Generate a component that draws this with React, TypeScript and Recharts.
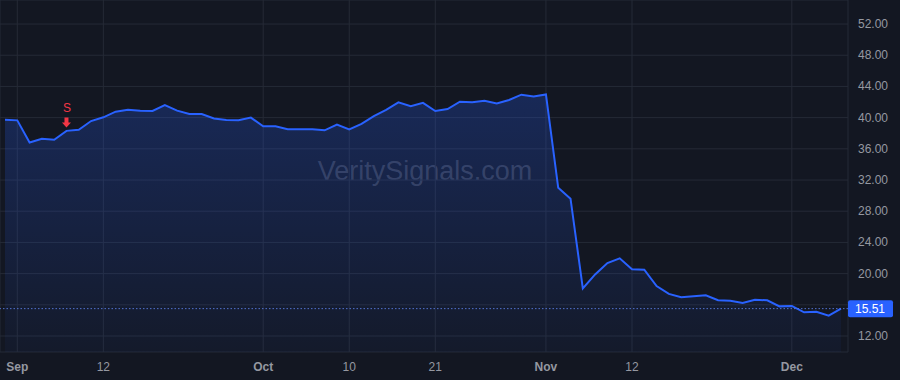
import {
  AreaChart,
  Area,
  XAxis,
  YAxis,
  CartesianGrid,
  ReferenceLine,
  ReferenceDot,
} from "recharts";

const dates = [
  "2024-08-30",
  "2024-09-03", "2024-09-04", "2024-09-05", "2024-09-06", "2024-09-09",
  "2024-09-10", "2024-09-11", "2024-09-12", "2024-09-13", "2024-09-16",
  "2024-09-17", "2024-09-18", "2024-09-19", "2024-09-20", "2024-09-23",
  "2024-09-24", "2024-09-25", "2024-09-26", "2024-09-27", "2024-09-30",
  "2024-10-01", "2024-10-02", "2024-10-03", "2024-10-04", "2024-10-07",
  "2024-10-08", "2024-10-09", "2024-10-10", "2024-10-11", "2024-10-14",
  "2024-10-15", "2024-10-16", "2024-10-17", "2024-10-18", "2024-10-21",
  "2024-10-22", "2024-10-23", "2024-10-24", "2024-10-25", "2024-10-28",
  "2024-10-29", "2024-10-30", "2024-10-31",
  "2024-11-01", "2024-11-04", "2024-11-05", "2024-11-06", "2024-11-07",
  "2024-11-08", "2024-11-11", "2024-11-12", "2024-11-13", "2024-11-14",
  "2024-11-15", "2024-11-18", "2024-11-19", "2024-11-20", "2024-11-21",
  "2024-11-22", "2024-11-25", "2024-11-26", "2024-11-27", "2024-11-29",
  "2024-12-02", "2024-12-03", "2024-12-04", "2024-12-05", "2024-12-06",
];

const closes = [
  39.73, 39.65, 36.8, 37.3, 37.17, 38.3, 38.45, 39.56, 40.04, 40.76,
  41.0, 40.88, 40.85, 41.6, 40.9, 40.46, 40.46, 39.9, 39.7, 39.65,
  40.0, 38.9, 38.9, 38.5, 38.5, 38.5, 38.37, 39.1, 38.5, 39.2,
  40.2, 41.0, 41.96, 41.45, 41.9, 40.85, 41.1, 42.04, 41.96, 42.17,
  41.8, 42.26, 42.94, 42.7, 42.97, 31.0, 29.6, 18.1, 19.9, 21.36,
  21.96, 20.55, 20.5, 18.41, 17.4, 16.96, 17.1, 17.22, 16.58, 16.53,
  16.23, 16.65, 16.58, 15.8, 15.85, 15.04, 15.12, 14.6, 15.51,
];

const tickDates = [
  "2024-09-03", "2024-09-12", "2024-10-01", "2024-10-10",
  "2024-10-21", "2024-11-01", "2024-11-12", "2024-12-02",
];
const tickLabels = ["Sep", "12", "Oct", "10", "21", "Nov", "12", "Dec"];
const monthLabels = ["Sep", "Oct", "Nov", "Dec"];

const priceTicks = [12, 16, 20, 24, 28, 32, 36, 40, 44, 48, 52];

const sellDate = "2024-09-09";
const lastPrice = 15.51;

const FONT = "'Liberation Sans', Arial, sans-serif";
const TEXT = "#9598a1";
const GRID = "#252a36";
const BLUE = "#2962ff";
const RED = "#f23645";

const data = dates.map((d, i) => ({ d, close: closes[i] }));

function DateTick({ x, y, payload }: any) {
  const label = tickLabels[tickDates.indexOf(payload.value)] ?? "";
  const bold = monthLabels.includes(label);
  return (
    <text
      x={x}
      y={y}
      dy="0.71em"
      textAnchor="middle"
      fill={TEXT}
      fontSize={12}
      fontWeight={bold ? 700 : 400}
      fontFamily={FONT}
    >
      {label}
    </text>
  );
}

function PriceTick({ x, y, payload }: any) {
  // 16.00 is hidden behind the last-price tag
  if (payload.value === 16) return null;
  return (
    <text x={x} y={y} dy={4} fill={TEXT} fontSize={12} fontFamily={FONT}>
      {payload.value.toFixed(2)}
    </text>
  );
}

function LastPriceTag({ viewBox }: any) {
  const left = viewBox.x + viewBox.width;
  return (
    <g>
      <rect x={left} y={viewBox.y - 8.5} width={45} height={17} rx={2} fill={BLUE} />
      <text
        x={left + 22}
        y={viewBox.y}
        dy={4}
        textAnchor="middle"
        fill="#ffffff"
        fontSize={12}
        fontFamily={FONT}
      >
        {lastPrice.toFixed(2)}
      </text>
    </g>
  );
}

function SellMarker({ cx, cy }: any) {
  const tip = cy - 3.5;
  return (
    <g>
      <text
        x={cx + 0.5}
        y={cy - 19}
        textAnchor="middle"
        fill={RED}
        fontSize={12}
        fontFamily={FONT}
      >
        S
      </text>
      <path
        d={`M${cx - 2},${tip - 10} L${cx + 2},${tip - 10} L${cx + 2},${tip - 5} L${cx + 4.5},${tip - 5} L${cx},${tip} L${cx - 4.5},${tip - 5} L${cx - 2},${tip - 5} Z`}
        fill={RED}
      />
    </g>
  );
}

export default function App() {
  return (
    <div style={{ position: "relative", width: 900, height: 380, background: "#131722" }}>
      <style>{`body{margin:0;background:#131722;}`}</style>
      <div
        style={{
          position: "absolute",
          left: 0,
          width: 850,
          top: 156,
          textAlign: "center",
          fontFamily: FONT,
          fontSize: 27,
          color: "rgba(125,130,145,0.36)",
        }}
      >
        VeritySignals.com
      </div>
      <AreaChart
        width={900}
        height={380}
        data={data}
        margin={{ top: 0, right: 0, bottom: 0, left: 0 }}
        style={{ position: "absolute", left: 0, top: 0 }}
      >
        <defs>
          <linearGradient id="fillBlue" x1="0" y1="0" x2="0" y2="1">
            <stop offset="0%" stopColor={BLUE} stopOpacity={0.24} />
            <stop offset="100%" stopColor={BLUE} stopOpacity={0.04} />
          </linearGradient>
        </defs>
        <CartesianGrid stroke={GRID} strokeWidth={1} />
        <XAxis
          dataKey="d"
          type="category"
          scale="point"
          padding={{ left: 5, right: 7 }}
          ticks={tickDates}
          tick={<DateTick />}
          interval={0}
          axisLine={false}
          tickLine={false}
          tickSize={0}
          tickMargin={10}
          height={28}
        />
        <YAxis
          orientation="right"
          type="number"
          domain={[9.95, 55.08]}
          allowDataOverflow
          ticks={priceTicks}
          tick={<PriceTick />}
          axisLine={false}
          tickLine={false}
          tickSize={0}
          tickMargin={10}
          width={52}
        />
        <Area
          type="linear"
          dataKey="close"
          stroke={BLUE}
          strokeWidth={2}
          fill="url(#fillBlue)"
          fillOpacity={1}
          dot={false}
          activeDot={false}
          isAnimationActive={false}
        />
        <ReferenceLine
          y={lastPrice}
          stroke="#5a7be0"
          strokeDasharray="1.5 2"
          strokeOpacity={0.9}
          label={<LastPriceTag />}
        />
        <ReferenceDot
          x={sellDate}
          y={closes[dates.indexOf(sellDate)]}
          shape={<SellMarker />}
        />
      </AreaChart>
    </div>
  );
}
